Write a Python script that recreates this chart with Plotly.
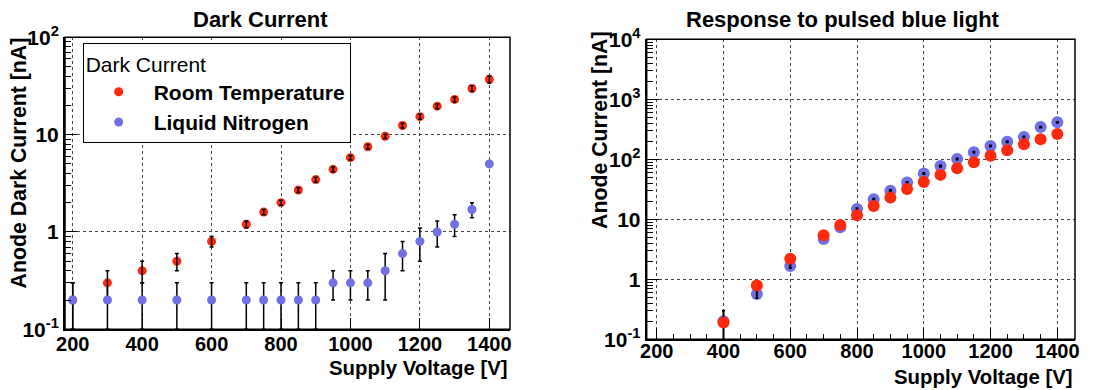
import plotly.graph_objects as go

# ---------------- data ----------------
# Left panel: dark current
rt_v = [200, 300, 400, 500, 600, 700, 750, 800, 850, 900, 950, 1000, 1050, 1100, 1150, 1200, 1250, 1300, 1350, 1400]
rt_i = [0.2, 0.3, 0.4, 0.5, 0.8, 1.2, 1.6, 2.0, 2.7, 3.45, 4.4, 5.8, 7.5, 9.6, 12.4, 15.3, 19.6, 23.0, 29.8, 37.0]
rt_err = [0.1, 0.1, 0.1, 0.1, 0.1, 0.1, 0.1, 0.12, 0.15, 0.2, 0.25, 0.3, 0.4, 0.5, 0.7, 0.9, 1.1, 1.4, 2.0, 3.0]

ln_v = [200, 300, 400, 500, 600, 700, 750, 800, 850, 900, 950, 1000, 1050, 1100, 1150, 1200, 1250, 1300, 1350, 1400]
ln_i = [0.2, 0.2, 0.2, 0.2, 0.2, 0.2, 0.2, 0.2, 0.2, 0.2, 0.3, 0.3, 0.3, 0.4, 0.6, 0.8, 1.0, 1.2, 1.7, 5.0]
ln_err = [0.1, 0.1, 0.1, 0.1, 0.1, 0.1, 0.1, 0.1, 0.1, 0.1, 0.1, 0.1, 0.1, 0.2, 0.2, 0.3, 0.3, 0.3, 0.3, 0.3]

# Right panel: response to pulsed blue light
pr_v = [400, 500, 600, 700, 750, 800, 850, 900, 950, 1000, 1050, 1100, 1150, 1200, 1250, 1300, 1350, 1400]
pr_rt = [0.19, 0.79, 2.2, 5.4, 8.0, 11.7, 16.7, 23, 32, 42, 55, 71, 89, 115, 141, 178, 215, 264]
pr_ln = [0.2, 0.57, 1.67, 4.7, 7.4, 14.8, 21.5, 30, 41, 58, 77, 101, 131, 167, 196, 235, 345, 414]
pr_ln_err = [0.1, 0.08, 0.12, 0.2, 0.3, 0.5, 0.6, 0.8, 1.0, 1.3, 1.6, 2.0, 2.5, 3.0, 3.5, 4.0, 5.0, 6.0]

x_tick_vals = [200, 400, 600, 800, 1000, 1200, 1400]
left_y_vals = [0.1, 1, 10, 100]
left_y_text = ["10<sup>-1</sup>", "1", "10", "10<sup>2</sup>"]
right_y_vals = [0.1, 1, 10, 100, 1000, 10000]
right_y_text = ["10<sup>-1</sup>", "1", "10", "10<sup>2</sup>", "10<sup>3</sup>", "10<sup>4</sup>"]

RED = "#ff2a0c"
BLUE = "#7070e4"
FONT = "Liberation Sans"
W, H = 1120, 390
OFF = 8  # page body margin offset of the plot div

fig = go.Figure()

# ---- left panel ----
fig.add_trace(go.Scatter(
    x=ln_v, y=ln_i, mode="markers", xaxis="x", yaxis="y",
    marker=dict(size=1, color="rgba(0,0,0,0)"),
    error_y=dict(type="data", array=ln_err, color="black", thickness=1.5, width=2),
    showlegend=False, hoverinfo="skip"))
fig.add_trace(go.Scatter(
    x=rt_v, y=rt_i, mode="markers", xaxis="x", yaxis="y",
    name="<b>Room Temperature</b>", legendrank=1,
    marker=dict(size=9, color=RED)))
fig.add_trace(go.Scatter(
    x=rt_v, y=rt_i, mode="markers", xaxis="x", yaxis="y",
    marker=dict(size=1, color="rgba(0,0,0,0)"),
    error_y=dict(type="data", array=rt_err, color="black", thickness=1.5, width=2),
    showlegend=False, hoverinfo="skip"))
fig.add_trace(go.Scatter(
    x=ln_v, y=ln_i, mode="markers", xaxis="x", yaxis="y",
    name="<b>Liquid Nitrogen</b>", legendrank=2,
    marker=dict(size=9, color=BLUE)))

# ---- right panel ----
fig.add_trace(go.Scatter(
    x=pr_v, y=pr_ln, mode="markers", xaxis="x2", yaxis="y2",
    marker=dict(size=12, color=BLUE), showlegend=False))
fig.add_trace(go.Scatter(
    x=pr_v, y=pr_ln, mode="markers", xaxis="x2", yaxis="y2",
    marker=dict(size=1, color="rgba(0,0,0,0)"),
    error_y=dict(type="data", array=pr_ln_err, color="black", thickness=2, width=1.5),
    showlegend=False, hoverinfo="skip"))
fig.add_trace(go.Scatter(
    x=pr_v, y=pr_rt, mode="markers", xaxis="x2", yaxis="y2",
    marker=dict(size=12, color=RED), showlegend=False))

# ---- geometry (screen pixels -> paper) ----
L1, R1, T1, B1 = 65, 510, 37.3, 329.3
L2, R2, T2, B2 = 646.7, 1075, 39.3, 339.3

def px(x):
    return (x - OFF) / W

def py(y):
    return 1 - (y - OFF) / H

xtickfont = dict(family=FONT, size=20, color="black", weight="bold")
ytickfont = dict(family=FONT, size=21, color="black", weight="bold")

xcommon = dict(
    type="linear", tickvals=x_tick_vals, ticks="inside", ticklen=11, tickwidth=1.2,
    tickcolor="black", showline=True, linecolor="black", linewidth=2,
    showgrid=True, gridcolor="#444", griddash="dot", gridwidth=1,
    tickfont=xtickfont, zeroline=False, automargin=False,
)
ycommon = dict(
    type="log", ticks="inside", ticklen=12, tickwidth=1.2, tickcolor="black",
    showline=True, linecolor="black", linewidth=2,
    showgrid=True, gridcolor="#444", griddash="dot", gridwidth=1,
    tickfont=ytickfont, zeroline=False, automargin=False,
    minor=dict(dtick="D1", ticks="inside", ticklen=6, tickcolor="black", showgrid=False),
)

fig.update_layout(
    width=W, height=H, autosize=False,
    margin=dict(l=0, r=0, t=0, b=0, pad=0),
    paper_bgcolor="white", plot_bgcolor="white",
    font=dict(family=FONT, color="black"),
    xaxis=dict(xcommon, domain=[px(L1), px(R1)], range=[177.8, 1459.6], anchor="y",
               ticklabelstandoff=-4),
    yaxis=dict(ycommon, domain=[py(B1), py(T1)], range=[-1, 2], anchor="x",
               tickvals=left_y_vals, ticktext=left_y_text),
    xaxis2=dict(xcommon, domain=[px(L2), px(R2)], range=[170, 1453], anchor="y2",
                ticklabelstandoff=-7,
                minor=dict(dtick=50, tick0=0, ticks="inside", ticklen=5, tickcolor="black", showgrid=False)),
    yaxis2=dict(ycommon, domain=[py(B2), py(T2)], range=[-1, 4], anchor="x2",
                tickvals=right_y_vals, ticktext=right_y_text),
    legend=dict(
        x=px(82.7), y=py(43.3), xanchor="left", yanchor="top",
        bgcolor="white", bordercolor="black", borderwidth=1,
        font=dict(family=FONT, size=21, color="black"),
        title=dict(text="Dark Current", font=dict(family=FONT, size=21, color="black")),
        itemwidth=60, tracegroupgap=0, traceorder="normal",
    ),
    showlegend=True,
)

for (l, r, t, b) in [(L1, R1, T1, B1), (L2, R2, T2, B2)]:
    fig.add_shape(type="rect", xref="paper", yref="paper",
                  x0=px(l), x1=px(r), y0=py(b), y1=py(t),
                  line=dict(color="black", width=1.5), layer="above")

ann = [
    dict(text="<b>Dark Current</b>", x=px(260), y=py(19), size=22, xanchor="center", yanchor="middle", angle=0),
    dict(text="<b>Response to pulsed blue light</b>", x=px(843), y=py(19), size=22, xanchor="center", yanchor="middle", angle=0),
    dict(text="<b>Supply Voltage [V]</b>", x=px(510), y=py(368), size=20.4, xanchor="right", yanchor="middle", angle=0),
    dict(text="<b>Supply Voltage [V]</b>", x=px(1075), y=py(377), size=20.4, xanchor="right", yanchor="middle", angle=0),
    dict(text="<b>Anode Dark Current [nA]</b>", x=px(18), y=py(36), size=21.3, xanchor="center", yanchor="top", angle=-90),
    dict(text="<b>Anode Current [nA]</b>", x=px(600), y=py(29), size=21.3, xanchor="center", yanchor="top", angle=-90),
]
for a in ann:
    fig.add_annotation(text=a["text"], x=a["x"], y=a["y"], xref="paper", yref="paper",
                       xanchor=a["xanchor"], yanchor=a["yanchor"], textangle=a["angle"],
                       showarrow=False, font=dict(family=FONT, size=a["size"], color="black"))

fig.write_html("out.html")
